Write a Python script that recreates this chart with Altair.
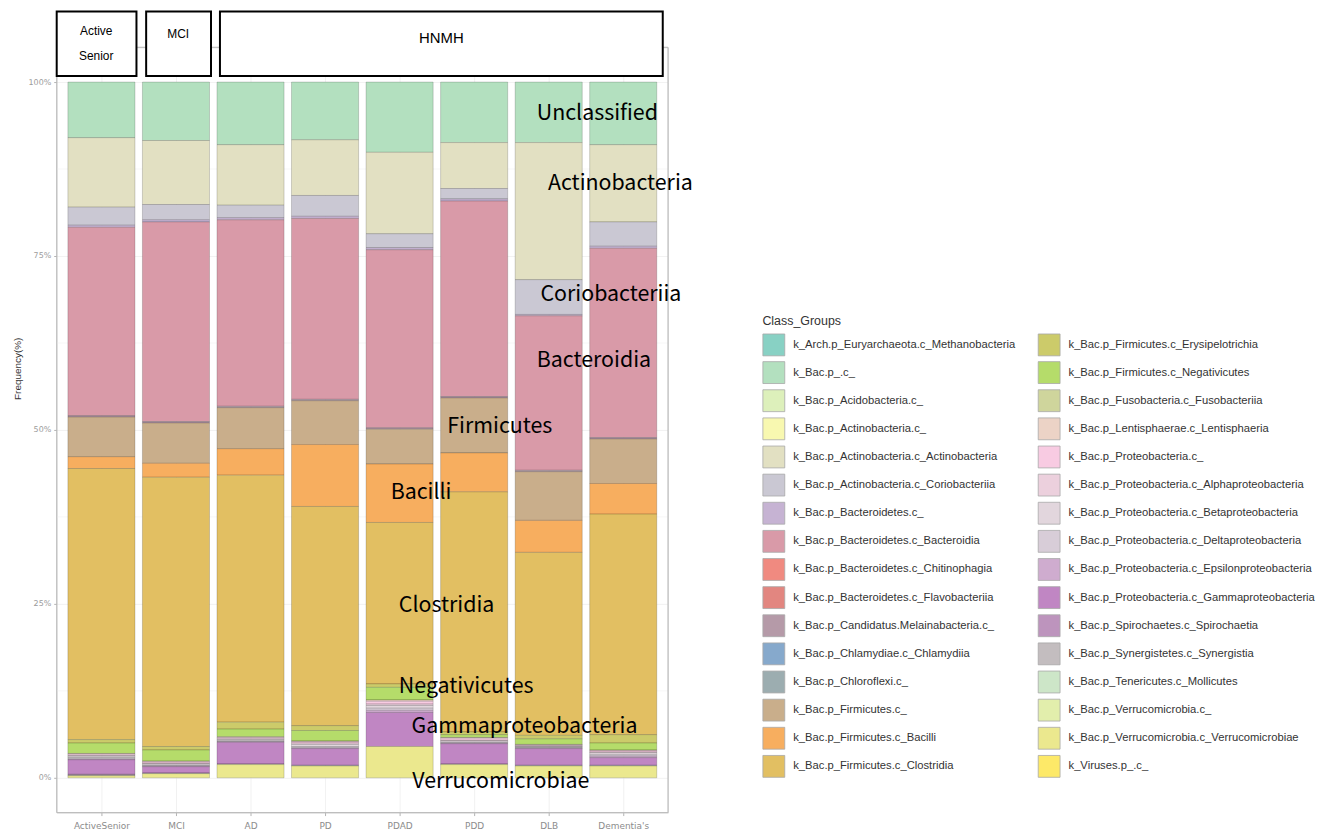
import json
import altair as alt
import pandas as pd

# ---------------- data ----------------
samples = ["ActiveSenior", "MCI", "AD", "PD", "PDAD", "PDD", "DLB", "Dementia's"]
sample_pos = [1, 2, 3, 4, 5, 6, 7, 8]

classes = [
    "k_Arch.p_Euryarchaeota.c_Methanobacteria",
    "k_Bac.p_.c_",
    "k_Bac.p_Acidobacteria.c_",
    "k_Bac.p_Actinobacteria.c_",
    "k_Bac.p_Actinobacteria.c_Actinobacteria",
    "k_Bac.p_Actinobacteria.c_Coriobacteriia",
    "k_Bac.p_Bacteroidetes.c_",
    "k_Bac.p_Bacteroidetes.c_Bacteroidia",
    "k_Bac.p_Bacteroidetes.c_Chitinophagia",
    "k_Bac.p_Bacteroidetes.c_Flavobacteriia",
    "k_Bac.p_Candidatus.Melainabacteria.c_",
    "k_Bac.p_Chlamydiae.c_Chlamydiia",
    "k_Bac.p_Chloroflexi.c_",
    "k_Bac.p_Firmicutes.c_",
    "k_Bac.p_Firmicutes.c_Bacilli",
    "k_Bac.p_Firmicutes.c_Clostridia",
    "k_Bac.p_Firmicutes.c_Erysipelotrichia",
    "k_Bac.p_Firmicutes.c_Negativicutes",
    "k_Bac.p_Fusobacteria.c_Fusobacteriia",
    "k_Bac.p_Lentisphaerae.c_Lentisphaeria",
    "k_Bac.p_Proteobacteria.c_",
    "k_Bac.p_Proteobacteria.c_Alphaproteobacteria",
    "k_Bac.p_Proteobacteria.c_Betaproteobacteria",
    "k_Bac.p_Proteobacteria.c_Deltaproteobacteria",
    "k_Bac.p_Proteobacteria.c_Epsilonproteobacteria",
    "k_Bac.p_Proteobacteria.c_Gammaproteobacteria",
    "k_Bac.p_Spirochaetes.c_Spirochaetia",
    "k_Bac.p_Synergistetes.c_Synergistia",
    "k_Bac.p_Tenericutes.c_Mollicutes",
    "k_Bac.p_Verrucomicrobia.c_",
    "k_Bac.p_Verrucomicrobia.c_Verrucomicrobiae",
    "k_Viruses.p_.c_",
]

class_colors = [
    "#88d1c4", "#b3e0bf", "#ddf0bb", "#f8f8b0", "#e2e0c2", "#cac8d3",
    "#c6b3d3", "#d99aa8", "#f08a80", "#e28680", "#b59aa8", "#86a9cc",
    "#9cadb0", "#c9ae8b", "#f7ae5f", "#e2bf62", "#cccb6a", "#b5dc6a",
    "#cfd59c", "#ecd3c6", "#f8cbe2", "#ecd0dd", "#e2d6dd", "#d8cdd8",
    "#cfaccf", "#c086c3", "#bd94bd", "#c3bdbf", "#cde6c8", "#e2eeac",
    "#ebe88e", "#fde968",
]

# relative abundance per sample (ActiveSenior, MCI, AD, PD, PDAD, PDD, DLB, Dementia's)
unclassified      = [0.080, 0.084, 0.090, 0.083, 0.101, 0.087, 0.087, 0.090]
actinobacteria    = [0.100, 0.092, 0.087, 0.080, 0.117, 0.066, 0.197, 0.111]
coriobacteriia    = [0.026, 0.022, 0.018, 0.030, 0.020, 0.015, 0.050, 0.035]
bacteroidetes_c   = [0.003, 0.003, 0.003, 0.003, 0.003, 0.003, 0.002, 0.003]
bacteroidia       = [0.271, 0.287, 0.268, 0.260, 0.256, 0.281, 0.222, 0.272]
candidatus        = [0.002, 0.002, 0.002, 0.002, 0.002, 0.002, 0.002, 0.002]
firmicutes_c      = [0.057, 0.058, 0.059, 0.063, 0.050, 0.079, 0.070, 0.064]
bacilli           = [0.017, 0.020, 0.038, 0.089, 0.084, 0.056, 0.046, 0.044]
clostridia        = [0.390, 0.387, 0.355, 0.315, 0.232, 0.345, 0.263, 0.317]
erysipelotrichia  = [0.005, 0.005, 0.010, 0.007, 0.005, 0.004, 0.005, 0.012]
negativicutes     = [0.015, 0.016, 0.011, 0.015, 0.018, 0.004, 0.008, 0.010]
lentisphaeria     = [0.001, 0.001, 0.001, 0.001, 0.002, 0.001, 0.001, 0.001]
proteobacteria_c  = [0.002, 0.002, 0.002, 0.002, 0.004, 0.003, 0.001, 0.002]
alphaproteo       = [0.001, 0.001, 0.001, 0.002, 0.002, 0.001, 0.001, 0.001]
betaproteo        = [0.002, 0.002, 0.002, 0.003, 0.004, 0.002, 0.001, 0.003]
deltaproteo       = [0.002, 0.001, 0.001, 0.002, 0.003, 0.001, 0.001, 0.002]
epsilonproteo     = [0.001, 0.001, 0.001, 0.001, 0.003, 0.001, 0.001, 0.002]
gammaproteo       = [0.021, 0.009, 0.031, 0.024, 0.049, 0.029, 0.024, 0.011]
spirochaetia      = [0.001, 0.000, 0.000, 0.000, 0.000, 0.000, 0.000, 0.000]
synergistia       = [0.001, 0.001, 0.001, 0.001, 0.000, 0.001, 0.001, 0.001]
verrucomicrobiae  = [0.003, 0.006, 0.019, 0.017, 0.045, 0.019, 0.017, 0.017]

series = {
    "k_Bac.p_.c_": unclassified,
    "k_Bac.p_Actinobacteria.c_Actinobacteria": actinobacteria,
    "k_Bac.p_Actinobacteria.c_Coriobacteriia": coriobacteriia,
    "k_Bac.p_Bacteroidetes.c_": bacteroidetes_c,
    "k_Bac.p_Bacteroidetes.c_Bacteroidia": bacteroidia,
    "k_Bac.p_Candidatus.Melainabacteria.c_": candidatus,
    "k_Bac.p_Firmicutes.c_": firmicutes_c,
    "k_Bac.p_Firmicutes.c_Bacilli": bacilli,
    "k_Bac.p_Firmicutes.c_Clostridia": clostridia,
    "k_Bac.p_Firmicutes.c_Erysipelotrichia": erysipelotrichia,
    "k_Bac.p_Firmicutes.c_Negativicutes": negativicutes,
    "k_Bac.p_Lentisphaerae.c_Lentisphaeria": lentisphaeria,
    "k_Bac.p_Proteobacteria.c_": proteobacteria_c,
    "k_Bac.p_Proteobacteria.c_Alphaproteobacteria": alphaproteo,
    "k_Bac.p_Proteobacteria.c_Betaproteobacteria": betaproteo,
    "k_Bac.p_Proteobacteria.c_Deltaproteobacteria": deltaproteo,
    "k_Bac.p_Proteobacteria.c_Epsilonproteobacteria": epsilonproteo,
    "k_Bac.p_Proteobacteria.c_Gammaproteobacteria": gammaproteo,
    "k_Bac.p_Spirochaetes.c_Spirochaetia": spirochaetia,
    "k_Bac.p_Synergistetes.c_Synergistia": synergistia,
    "k_Bac.p_Verrucomicrobia.c_Verrucomicrobiae": verrucomicrobiae,
}

# group boxes above the panel
group_names = ["Active Senior", "MCI", "HNMH"]
group_x0 = [0.40, 1.60, 2.59]
group_x1 = [1.47, 2.47, 8.53]

group_label_text = ["Active", "Senior", "MCI", "HNMH"]
group_label_x = [0.93, 0.93, 2.03, 5.56]
group_label_y = [1.073, 1.037, 1.069, 1.063]
group_label_size = [12, 12, 12, 15]

# class annotations on the bars
note_text = ["Unclassified", "Actinobacteria", "Coriobacteriia", "Bacteroidia",
             "Firmicutes", "Bacilli", "Clostridia", "Negativicutes",
             "Gammaproteobacteria", "Verrucomicrobiae"]
note_x = [6.84, 6.99, 6.89, 6.84, 5.64, 4.88, 4.99, 4.99, 5.16, 5.17]
note_y = [0.954, 0.854, 0.694, 0.599, 0.504, 0.410, 0.247, 0.131, 0.073, -0.006]

y_ticks = [0, 0.25, 0.5, 0.75, 1.0]
y_minor = [0.125, 0.375, 0.625, 0.875]

# ---------------- tables ----------------
rows = []
for cname, vals in series.items():
    idx = classes.index(cname)
    for s, p, v in zip(samples, sample_pos, vals):
        if v > 0:
            rows.append({"sample": s, "pos": p, "cls": cname, "idx": idx, "value": v})
df = pd.DataFrame(rows)

XS = alt.Scale(domain=[0.4, 8.6], nice=False, zero=False)
YS = alt.Scale(domain=[-0.05, 1.05], nice=False, zero=False)
FONT = "Liberation Sans"
AXFONT = "DejaVu Sans"

label_expr = json.dumps(samples) + "[datum.value - 1]"
XAX = alt.Axis(values=sample_pos, labelExpr=label_expr, grid=True,
               gridColor="#ebebeb", gridWidth=0.7, domain=False,
               tickColor="#b3b3b3", tickSize=3, labelPadding=6,
               labelFontSize=9, labelColor="#8c8c8c", labelFont=AXFONT)
YAX = alt.Axis(values=y_ticks, format=".0%", grid=True,
               gridColor="#ebebeb", gridWidth=0.7, domain=False,
               tickColor="#b3b3b3", tickSize=3, labelPadding=3,
               labelFontSize=8, labelColor="#9a9a9a", labelFont=AXFONT,
               titleFont=FONT, titleFontSize=10, titleFontWeight="normal",
               titleColor="#333333", titlePadding=6, titleY=323)
YT = "Frequency(%)"


def xenc(f):
    return alt.X(f, scale=XS, axis=XAX, title=None)


def yenc(f):
    return alt.Y(f, scale=YS, axis=YAX, title=YT)


minor = alt.Chart(pd.DataFrame({"y": y_minor})).mark_rule(
    color="#f3f3f3", strokeWidth=0.6
).encode(y=yenc("y:Q"))

bars = alt.Chart(df).transform_stack(
    stack="value", groupby=["sample"], as_=["y0", "y1"],
    sort=[alt.SortField("idx", order="descending")], offset="normalize",
).transform_calculate(
    x0="datum.pos - 0.45", x1="datum.pos + 0.45"
).mark_rect(stroke="#000000", strokeOpacity=0.28, strokeWidth=0.6).encode(
    x=xenc("x0:Q"),
    x2="x1:Q",
    y=yenc("y0:Q"),
    y2="y1:Q",
    color=alt.Color("cls:N", title="Class_Groups",
                    scale=alt.Scale(domain=classes, range=class_colors),
                    legend=alt.Legend(orient="none", legendX=710, legendY=269,
                                      columns=2, symbolLimit=0, symbolType="square",
                                      symbolSize=484,
                                      symbolStrokeColor="#a8a8a8", symbolStrokeWidth=0.8,
                                      symbolOpacity=1, labelFont=FONT, labelFontSize=11.3,
                                      labelColor="#333333", labelOffset=8, labelLimit=400,
                                      titleFont=FONT, titleFontSize=12.5,
                                      titleFontWeight="normal", titleColor="#333333",
                                      titlePadding=6, rowPadding=1.3, columnPadding=20)),
)

frame = alt.Chart(pd.DataFrame({"x0": [0.4], "x1": [8.6], "y0": [-0.05], "y1": [1.05]})).mark_rect(
    fill=None, fillOpacity=0, stroke="#b8b8b8", strokeWidth=1
).encode(x=xenc("x0:Q"), x2="x1:Q", y=yenc("y0:Q"), y2="y1:Q")

gdf = pd.DataFrame({"name": group_names, "x0": group_x0, "x1": group_x1,
                    "y0": [1.0086] * 3, "y1": [1.1014] * 3})
boxes = alt.Chart(gdf).mark_rect(fill="white", stroke="black", strokeWidth=2).encode(
    x=xenc("x0:Q"), x2="x1:Q", y=yenc("y0:Q"), y2="y1:Q")

ldf = pd.DataFrame({"t": group_label_text, "x": group_label_x, "y": group_label_y,
                    "fs": group_label_size})
box_text = alt.Chart(ldf).mark_text(font=FONT, color="black", align="center",
                                    baseline="middle").encode(
    x=xenc("x:Q"), y=yenc("y:Q"), text="t:N",
    size=alt.Size("fs:Q", scale=None, legend=None))

ndf = pd.DataFrame({"t": note_text, "x": note_x, "y": note_y})
notes = alt.Chart(ndf).mark_text(font="Noto Sans CJK JP", fontSize=21.5, color="black",
                                 align="left", baseline="middle").encode(
    x=xenc("x:Q"), y=yenc("y:Q"), text="t:N")

chart = alt.layer(minor, bars, frame, boxes, box_text, notes).properties(
    width=615, height=770,
    padding={"left": 49, "top": 37, "right": 653, "bottom": 15},
    autosize=alt.AutoSizeParams(type="none"),
).configure_view(stroke=None).configure(background="white")

chart.save("out.html", embed_options={"renderer": "svg", "actions": False})
